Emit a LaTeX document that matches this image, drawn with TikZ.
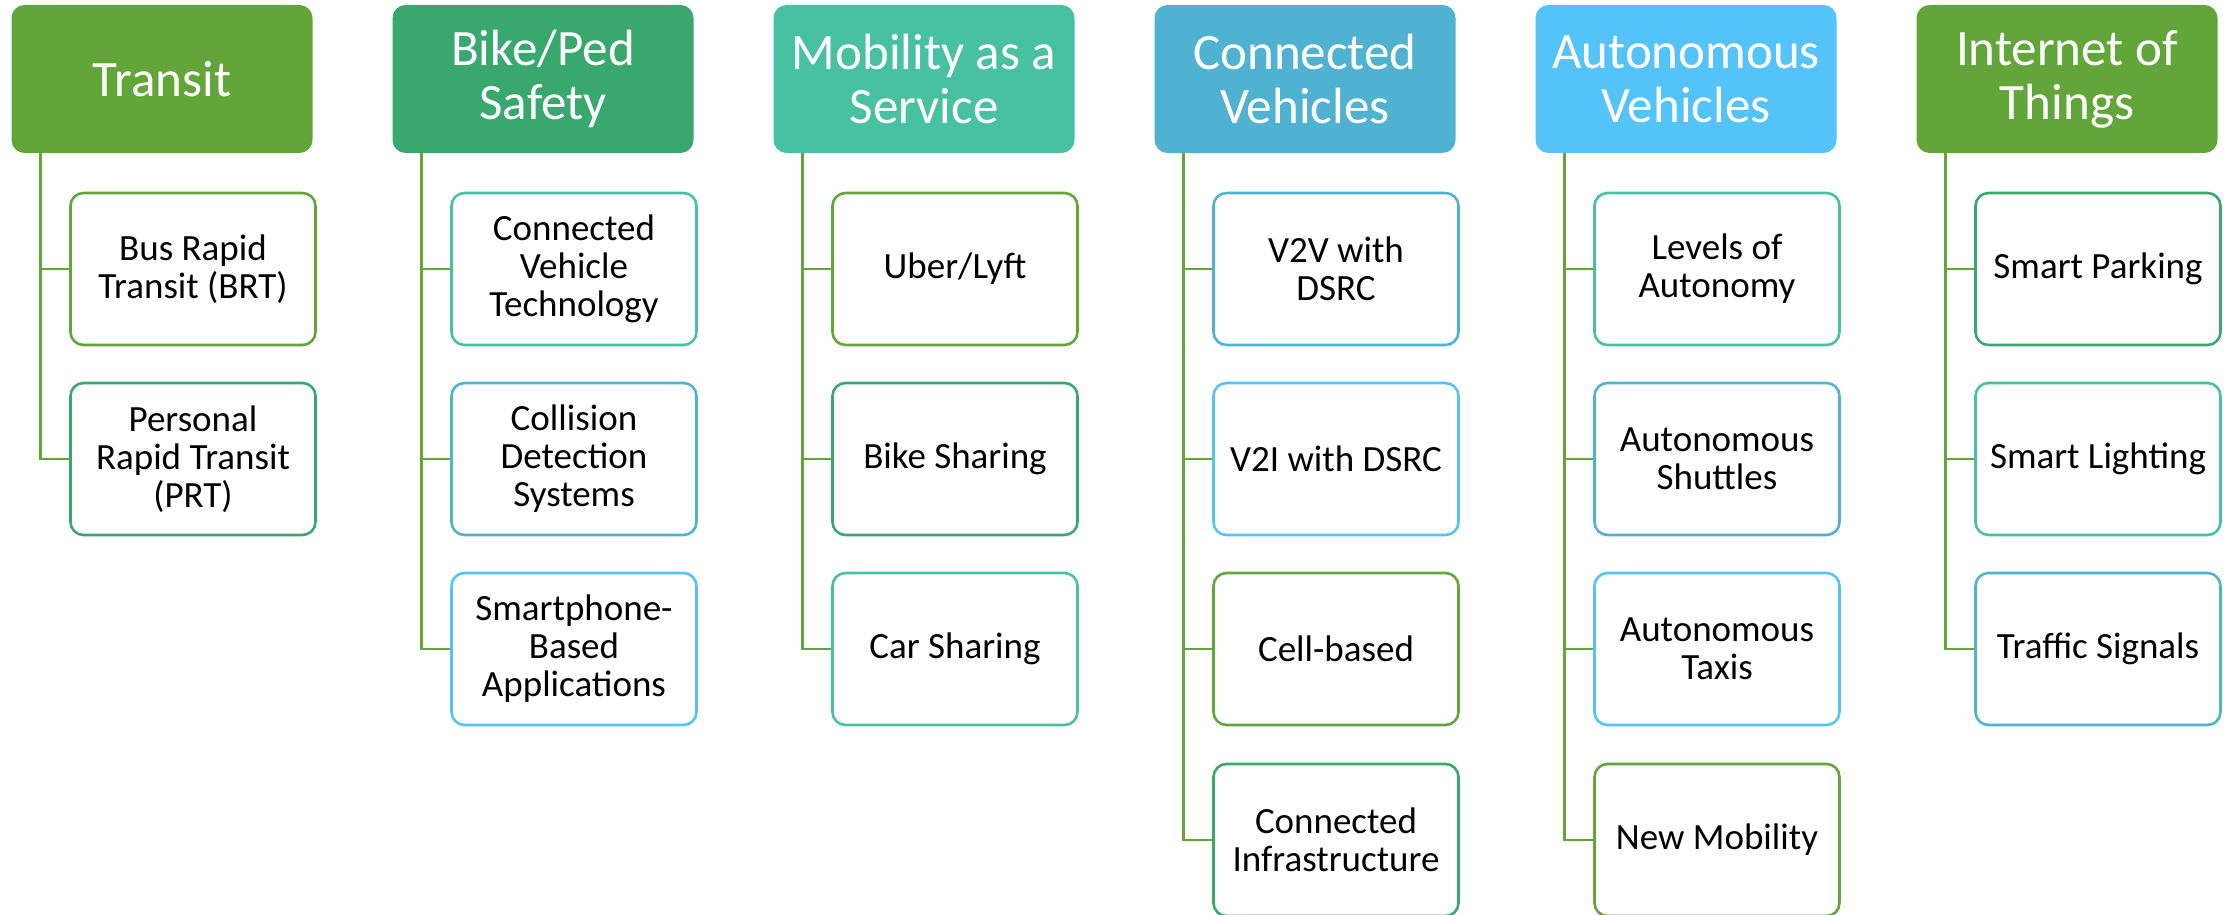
\documentclass[tikz,border=0pt]{standalone}
\usepackage{fontspec}
\setmainfont{Carlito}
\definecolor{cA}{RGB}{98,165,56}
\definecolor{cB}{RGB}{57,168,110}
\definecolor{cC}{RGB}{71,193,162}
\definecolor{cD}{RGB}{79,178,209}
\definecolor{cE}{RGB}{84,195,247}
\tikzset{
  hdr/.style={fill=#1, draw=none, rounded corners=6.5pt, minimum width=150.5pt, minimum height=74pt,
    inner sep=0pt, align=center, text=white, font=\fontsize{25.5}{27}\selectfont},
  leaf/.style={draw=#1, fill=white, line width=1.3pt, rounded corners=6.5pt, minimum width=122.5pt,
    minimum height=76pt, inner sep=0pt, align=center, text=black, font=\fontsize{18.5}{19}\selectfont},
  conn/.style={draw=cA, line width=1.2pt}
}
\begin{document}
\begin{tikzpicture}[x=0.5pt,y=-0.5pt]
\useasboundingbox (0,0) rectangle (2229,915);
% headers
\node[hdr=cA] (h1) at (162,79) {Transit};
\node[hdr=cB] (h2) at (543,79) {Bike/Ped\\Safety};
\node[hdr=cC] (h3) at (924,79) {Mobility as a\\Service};
\node[hdr=cD] (h4) at (1305,79) {Connected\\Vehicles};
\node[hdr=cE] (h5) at (1686,79) {Autonomous\\Vehicles};
\node[hdr=cA] (h6) at (2067,79) {Internet of\\Things};
% trunk tops
\foreach \i in {1,...,6} {\coordinate (t\i) at ([xshift=14.75pt]h\i.south west);}
% column 1
\node[leaf=cA] (c11) at (193,269) {Bus Rapid\\Transit (BRT)};
\node[leaf=cB] (c12) at (193,459) {Personal\\Rapid Transit\\(PRT)};
% column 2
\node[leaf=cC] (c21) at (574,269) {Connected\\Vehicle\\Technology};
\node[leaf=cD] (c22) at (574,459) {Collision\\Detection\\Systems};
\node[leaf=cE] (c23) at (574,649) {Smartphone-\\Based\\Applications};
% column 3
\node[leaf=cA] (c31) at (955,269) {Uber/Lyft};
\node[leaf=cB] (c32) at (955,459) {Bike Sharing};
\node[leaf=cC] (c33) at (955,649) {Car Sharing};
% column 4
\node[leaf=cD] (c41) at (1336,269) {V2V with\\DSRC};
\node[leaf=cE] (c42) at (1336,459) {V2I with DSRC};
\node[leaf=cA] (c43) at (1336,649) {Cell-based};
\node[leaf=cB] (c44) at (1336,840) {Connected\\Infrastructure};
% column 5
\node[leaf=cC] (c51) at (1717,269) {Levels of\\Autonomy};
\node[leaf=cD] (c52) at (1717,459) {Autonomous\\Shuttles};
\node[leaf=cE] (c53) at (1717,649) {Autonomous\\Taxis};
\node[leaf=cA] (c54) at (1717,840) {New Mobility};
% column 6
\node[leaf=cB] (c61) at (2098,269) {Smart Parking};
\node[leaf=cC] (c62) at (2098,459) {Smart Lighting};
\node[leaf=cD] (c63) at (2098,649) {Traffic Signals};
% connectors
\foreach \c/\n in {1/2,2/3,3/3,4/4,5/4,6/3} {
  \foreach \r in {1,...,\n} {
    \draw[conn] (t\c) |- (c\c\r.west);
  }
}
\end{tikzpicture}
\end{document}
